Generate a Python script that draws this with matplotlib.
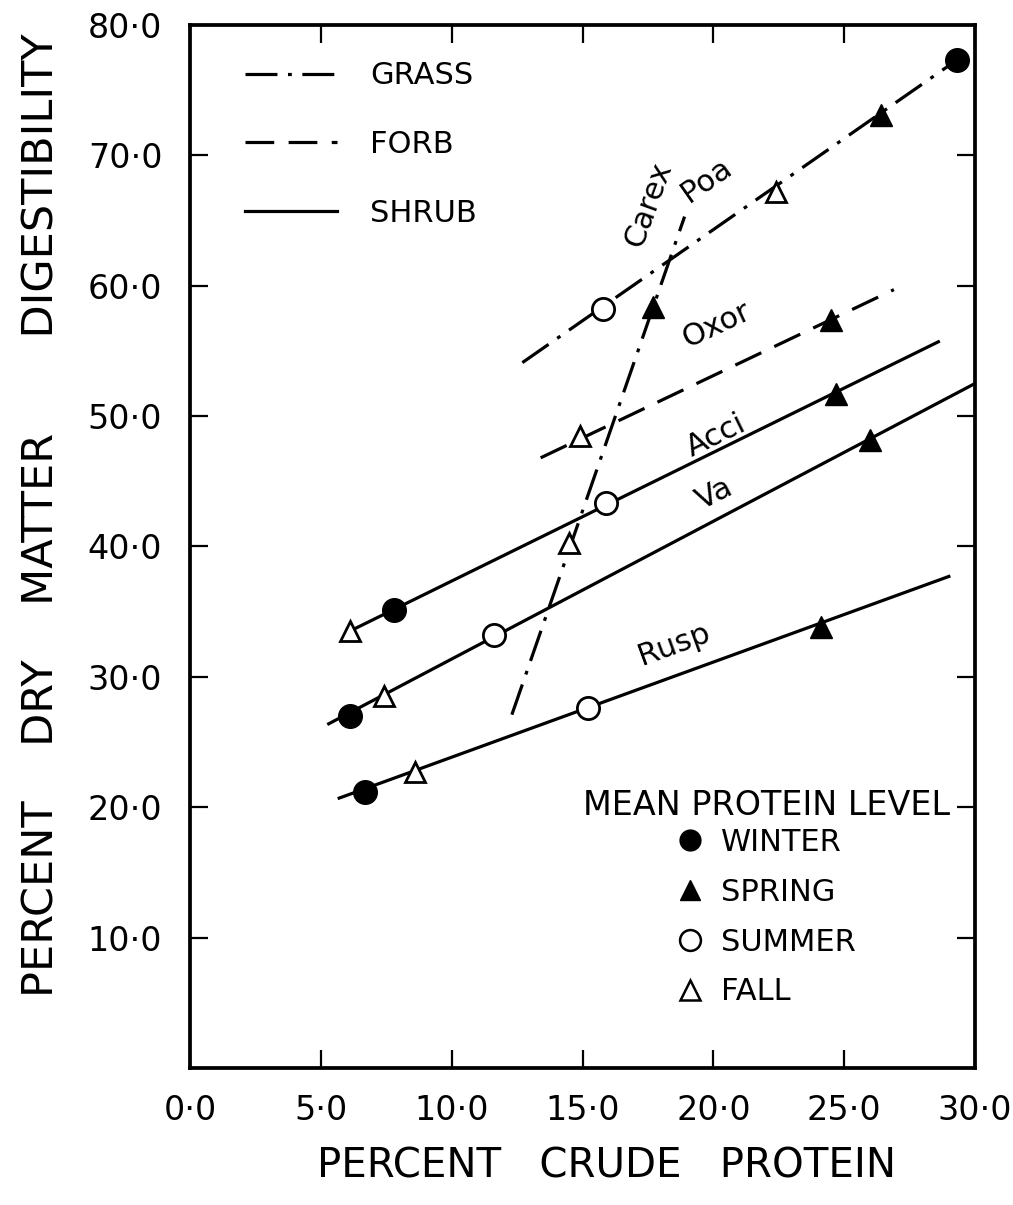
import numpy as np
import matplotlib
matplotlib.use("Agg")
import matplotlib.pyplot as plt
from matplotlib.lines import Line2D

plt.rcParams['font.family'] = ['DejaVu Sans']

# regression lines: species, type, start and end of the drawn line
species = ["Poa", "Carex", "Oxor", "Acci", "Va", "Rusp"]
kind = ["grass", "grass", "forb", "shrub", "shrub", "shrub"]
line_x0 = [12.7, 12.3, 13.4, 6.1, 5.3, 5.7]
line_y0 = [54.1, 27.1, 46.8, 33.5, 26.4, 20.7]
line_x1 = [29.3, 18.9, 26.9, 28.6, 30.0, 29.0]
line_y1 = [77.3, 65.3, 59.7, 55.7, 52.5, 37.7]

# mean protein level points per season
winter_x = [29.3, 7.8, 6.1, 6.7]
winter_y = [77.3, 35.1, 27.0, 21.2]
spring_x = [26.4, 17.7, 24.5, 24.7, 26.0, 24.1]
spring_y = [73.1, 58.4, 57.4, 51.7, 48.2, 33.8]
summer_x = [15.8, 15.9, 11.6, 15.2]
summer_y = [58.2, 43.3, 33.2, 27.6]
fall_x = [22.4, 14.5, 14.9, 6.1, 7.4, 8.6]
fall_y = [67.2, 40.3, 48.5, 33.5, 28.5, 22.7]

# species labels
lab_x = [19.75, 17.5, 20.1, 20.1, 20.05, 18.5]
lab_y = [68.1, 66.2, 57.0, 48.5, 44.0, 32.5]
lab_rot = [35, 70, 25, 26, 27, 20]

xticks = [0, 5, 10, 15, 20, 25, 30]
yticks = [10, 20, 30, 40, 50, 60, 70, 80]

styles = {"grass": (0, (10, 3.3, 1.2, 3.3)),
          "forb": (0, (9, 4.5)),
          "shrub": "-"}

fig = plt.figure(figsize=(10.13, 12.05), dpi=100)
ax = fig.add_axes([0.1876, 0.1137, 0.7749, 0.8656])

for i in range(len(species)):
    ax.plot([line_x0[i], line_x1[i]], [line_y0[i], line_y1[i]],
            color="black", lw=2.3, ls=styles[kind[i]], zorder=2)
    ax.text(lab_x[i], lab_y[i], species[i], rotation=lab_rot[i],
            rotation_mode="anchor", ha="center", va="center", fontsize=22)

ax.plot(winter_x, winter_y, "o", ms=17, color="black", ls="none", zorder=3)
ax.plot(spring_x, spring_y, "^", ms=16, color="black", ls="none", zorder=3)
ax.plot(summer_x, summer_y, "o", ms=16, mfc="white", mec="black", mew=2,
        ls="none", zorder=3)
ax.plot(fall_x, fall_y, "^", ms=15, mfc="white", mec="black", mew=2,
        ls="none", zorder=3)

ax.set_xlim(0, 30)
ax.set_ylim(0, 80)
ax.set_xticks(xticks)
ax.set_yticks(yticks)
ax.set_xticklabels([("%.1f" % v).replace(".", "\u00b7") for v in xticks])
ax.set_yticklabels([("%.1f" % v).replace(".", "\u00b7") for v in yticks])
ax.tick_params(direction="in", length=13, width=1.6, labelsize=24,
               top=True, right=True)
ax.tick_params(axis="x", pad=19)
ax.tick_params(axis="y", pad=20)
for s in ax.spines.values():
    s.set_linewidth(2.7)

ax.set_xlabel("PERCENT   CRUDE   PROTEIN", fontsize=29)
ax.xaxis.set_label_coords(0.531, -0.075)
ax.set_ylabel("PERCENT    DRY    MATTER       DIGESTIBILITY", fontsize=31)
ax.yaxis.set_label_coords(-0.163, 0.53)

# line type key
h1 = [Line2D([], [], color="black", lw=2.3, ls=styles[k]) for k in ["grass", "forb", "shrub"]]
leg1 = ax.legend(h1, ["GRASS", "FORB", "SHRUB"], loc="upper left",
                 bbox_to_anchor=(0.07, 0.965), frameon=False, fontsize=22,
                 handlelength=3.0, handletextpad=1.1, labelspacing=1.3,
                 borderpad=0, borderaxespad=0)
ax.add_artist(leg1)

# season key
h2 = [Line2D([], [], marker="o", ls="none", ms=15, color="black"),
      Line2D([], [], marker="^", ls="none", ms=15, color="black"),
      Line2D([], [], marker="o", ls="none", ms=15, mfc="white", mec="black", mew=1.8),
      Line2D([], [], marker="^", ls="none", ms=15, mfc="white", mec="black", mew=1.8)]
leg2 = ax.legend(h2, ["WINTER", "SPRING", "SUMMER", "FALL"], loc="upper center",
                 bbox_to_anchor=(0.735, 0.267), frameon=False, fontsize=22,
                 title="MEAN PROTEIN LEVEL", title_fontsize=24,
                 handlelength=0.8, handletextpad=0.6, labelspacing=0.68,
                 borderpad=0, borderaxespad=0)
leg2._legend_box.sep = 4

fig.savefig("out.png", dpi=100)
